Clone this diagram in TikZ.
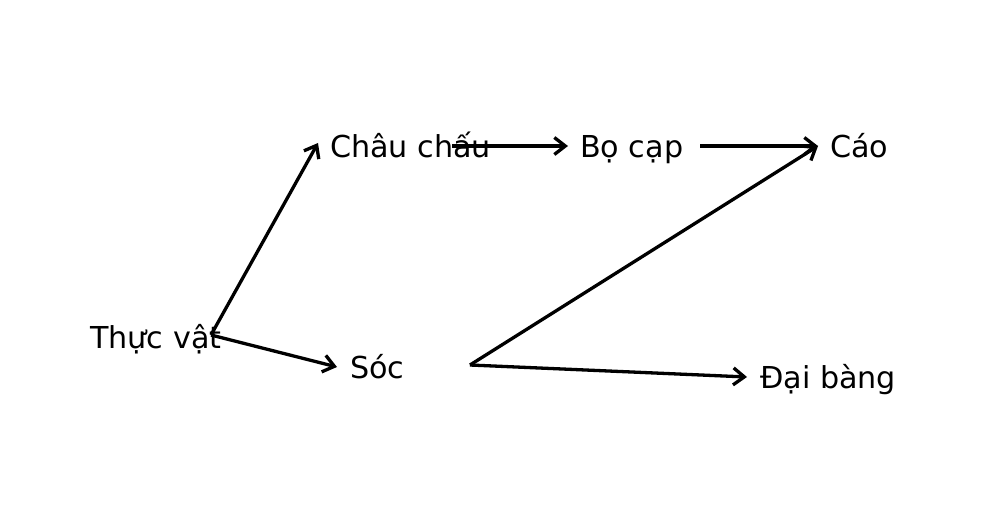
\documentclass[tikz,border=0pt]{standalone}
\usepackage{fontspec}
\setmainfont{DejaVu Sans}
\usetikzlibrary{arrows.meta}
\begin{document}
\begin{tikzpicture}[x=1pt,y=1pt,
  lbl/.style={anchor=base west, inner sep=0pt, font=\fontsize{30.2}{36}\selectfont},
  edge/.style={line width=3.3pt, -{Straight Barb[length=11pt,width=17pt,line width=3.3pt]}}]
\fill[white] (0,0) rectangle (1000,520);
\useasboundingbox (0,0) rectangle (1000,520);
% labels (y = 520 - pixel y of baseline)
\node[lbl] (tv)  at (90,172) {Thực vật};
\node[lbl] (cc)  at (330,362) {Châu chấu};
\node[lbl] (bc)  at (580,362) {Bọ cạp};
\node[lbl] (cao) at (830,362) {Cáo};
\node[lbl] (soc) at (350,142) {Sóc};
\node[lbl] (db)  at (760,132) {Đại bàng};
% connector end points
\coordinate (tvO)  at (211,185);
\coordinate (ccI)  at (318,377);
\coordinate (socI) at (337,153);
\coordinate (ccO)  at (452,374);
\coordinate (bcI)  at (568,374);
\coordinate (bcO)  at (700,374);
\coordinate (caoI) at (818,374);
\coordinate (socO) at (470,155);
\coordinate (dbI)  at (747,143);
% connectors
\draw[edge] (tvO) -- (ccI);
\draw[edge] (tvO) -- (socI);
\draw[edge] (ccO) -- (bcI);
\draw[edge] (bcO) -- (caoI);
\draw[edge] (socO) -- (caoI);
\draw[edge] (socO) -- (dbI);
\end{tikzpicture}
\end{document}
